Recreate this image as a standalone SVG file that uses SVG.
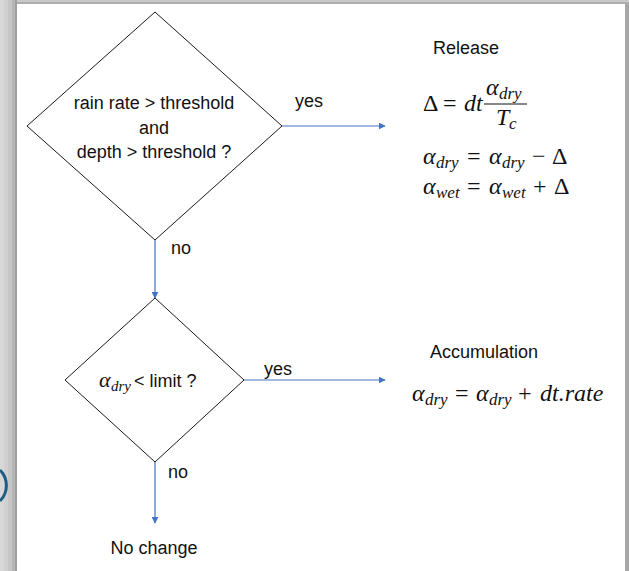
<svg xmlns="http://www.w3.org/2000/svg" width="629" height="571" viewBox="0 0 629 571">
  <defs>
    <marker id="arrow" viewBox="0 0 10 10" refX="9" refY="5" markerWidth="7" markerHeight="7" orient="auto" markerUnits="userSpaceOnUse">
      <path d="M0,0 L10,5 L0,10 z" fill="#4472c4"/>
    </marker>
    <style>
      .shape { fill: #ffffff; stroke: #1a1a1a; stroke-width: 1; }
      .edge { fill: none; stroke: #4472c4; stroke-width: 1.2; marker-end: url(#arrow); }
      .lbl { font-family: "Liberation Sans", Arial, sans-serif; font-size: 18px; fill: #111; }
      .mid { text-anchor: middle; }
      .math { font-family: "Liberation Serif", "DejaVu Serif", serif; font-size: 24px; font-style: italic; fill: #111; }
      .up { font-style: normal; }
      .sub { font-size: 17px; }
    </style>
  </defs>

  <!-- page background with framed edges -->
  <rect x="0" y="0" width="629" height="571" fill="#ffffff"/>
  <g id="frame" shape-rendering="crispEdges">
    <rect x="0" y="0" width="4" height="571" fill="#d8d8d8"/>
    <rect x="4" y="0" width="4" height="571" fill="#d0d0d0"/>
    <rect x="8" y="0" width="4" height="571" fill="#c6c6c6"/>
    <rect x="12" y="0" width="3" height="571" fill="#b6b6b6"/>
    <rect x="15" y="0" width="2" height="571" fill="#9e9e9e"/>
    <rect x="17" y="0" width="612" height="2" fill="#c8c8c8"/>
    <rect x="17" y="2" width="612" height="2" fill="#adadad"/>
    <rect x="625" y="4" width="4" height="567" fill="#a6a6a6"/>
  </g>
  <path d="M0,470 A22,22 0 0 1 0,501" fill="none" stroke="#1f5d86" stroke-width="3"/>

  <!-- connectors -->
  <g id="connectors">
    <line class="edge" x1="282" y1="126" x2="385" y2="126"/>
    <line class="edge" x1="155" y1="240" x2="155" y2="298"/>
    <line class="edge" x1="244" y1="380" x2="385" y2="380"/>
    <line class="edge" x1="155" y1="462" x2="155" y2="523"/>
    <text class="lbl" x="295" y="107">yes</text>
    <text class="lbl" x="171" y="254">no</text>
    <text class="lbl" x="264" y="375">yes</text>
    <text class="lbl" x="168" y="478">no</text>
  </g>

  <!-- decision: rain and depth -->
  <g id="decision-rain">
    <polygon class="shape" points="155,12 282,126 155,240 27,126"/>
    <text class="lbl mid" x="154" y="109">rain rate &gt; threshold</text>
    <text class="lbl mid" x="154" y="134">and</text>
    <text class="lbl mid" x="154" y="158">depth &gt; threshold ?</text>
  </g>

  <!-- decision: dry limit -->
  <g id="decision-limit">
    <polygon class="shape" points="155,298 244,380 155,462 65,380"/>
    <text class="math" x="99" y="387" style="font-size:22px">α</text>
    <text class="math sub" x="111" y="391" style="font-size:15px">dry</text>
    <text class="lbl" x="134" y="387">&lt; limit ?</text>
  </g>

  <!-- release branch -->
  <g id="release">
    <text class="lbl" x="433" y="54">Release</text>
    <text class="math up" x="423" y="111">Δ</text>
    <text class="math up" x="443" y="111">=</text>
    <text class="math" x="464" y="111">dt</text>
    <text class="math" x="486" y="95">α</text>
    <text class="math sub" x="499" y="99">dry</text>
    <line x1="484" y1="104" x2="527" y2="104" stroke="#111" stroke-width="1.2"/>
    <text class="math" x="496" y="125">T</text>
    <text class="math sub" x="509" y="129">c</text>

    <text class="math" x="423" y="164">α</text>
    <text class="math sub" x="436" y="168">dry</text>
    <text class="math up" x="467" y="164">=</text>
    <text class="math" x="489" y="164">α</text>
    <text class="math sub" x="502" y="168">dry</text>
    <text class="math up" x="532" y="164">−</text>
    <text class="math up" x="552" y="164">Δ</text>

    <text class="math" x="423" y="194">α</text>
    <text class="math sub" x="436" y="198">wet</text>
    <text class="math up" x="467" y="194">=</text>
    <text class="math" x="489" y="194">α</text>
    <text class="math sub" x="502" y="198">wet</text>
    <text class="math up" x="533" y="194">+</text>
    <text class="math up" x="554" y="194">Δ</text>
  </g>

  <!-- accumulation branch -->
  <g id="accumulation">
    <text class="lbl" x="430" y="358">Accumulation</text>
    <text class="math" x="412" y="401">α</text>
    <text class="math sub" x="425" y="405">dry</text>
    <text class="math up" x="455" y="401">=</text>
    <text class="math" x="476" y="401">α</text>
    <text class="math sub" x="489" y="405">dry</text>
    <text class="math up" x="518" y="401">+</text>
    <text class="math" x="540" y="401">dt.rate</text>
  </g>

  <!-- no change outcome -->
  <g id="no-change">
    <text class="lbl mid" x="154" y="554">No change</text>
  </g>
</svg>
